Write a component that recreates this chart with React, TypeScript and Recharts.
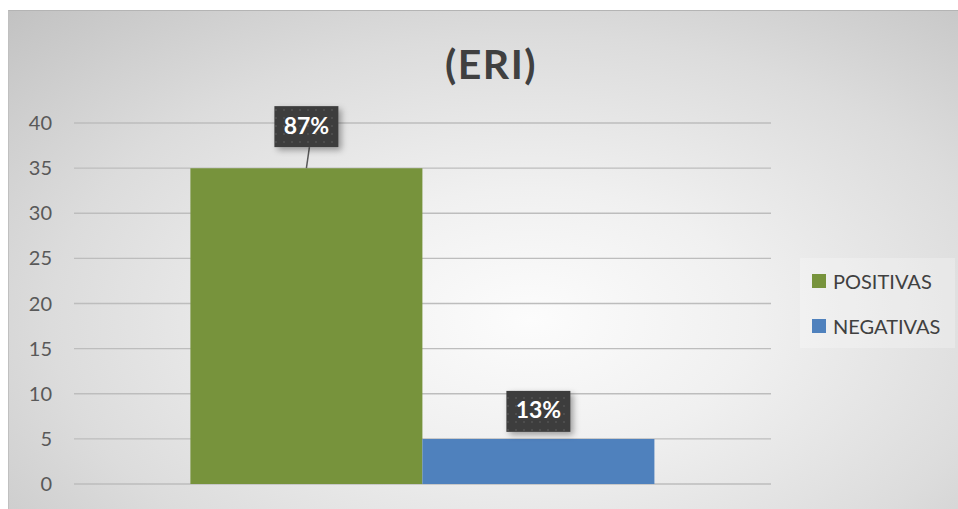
import React from 'react';
import { BarChart, Bar, XAxis, YAxis, CartesianGrid, LabelList } from 'recharts';

// single category, one bar per answer type
const categories = ['ERI'];
const seriesNames = ['POSITIVAS', 'NEGATIVAS'];
const seriesKeys = ['positivas', 'negativas'];
const seriesValues = [35, 5];
const pctLabels = ['87%', '13%'];
const seriesColors = ['#77933c', '#4f81bd'];
const yTicks = [0, 5, 10, 15, 20, 25, 30, 35, 40];

const chartData = categories.map((name) => {
  const row: Record<string, string | number> = { name };
  seriesKeys.forEach((k, i) => {
    row[k] = seriesValues[i];
  });
  return row;
});

// how far each callout box sits above its bar
const labelLift: Record<string, number> = { positivas: 21, negativas: 7 };

const FONT = 'Lato, "Open Sans", sans-serif';

const makeCallout = (key: string, text: string) => (props: any) => {
  const { x, y, width } = props;
  const cx = x + width / 2;
  const boxW = 64;
  const boxH = 41;
  const lift = labelLift[key];
  const bottom = y - lift;
  const top = bottom - boxH;
  return (
    <g>
      {lift > 10 && (
        <line x1={cx + 3} y1={bottom} x2={cx} y2={y} stroke="#595959" strokeWidth={1.5} />
      )}
      <rect x={cx - boxW / 2} y={top} width={boxW} height={boxH} fill="url(#dots)" filter="url(#calloutShadow)" />
      <text
        x={cx}
        y={top + boxH / 2 + 1}
        textAnchor="middle"
        dominantBaseline="middle"
        fill="#ffffff"
        fontFamily={FONT}
        fontWeight={700}
        fontSize={23}
      >
        {text}
      </text>
    </g>
  );
};

export default function App() {
  return (
    <div style={{ position: 'absolute', left: 0, top: 0, width: 958, height: 509, background: '#ffffff', overflow: 'hidden' }}>
      <div
        style={{
          position: 'absolute',
          left: 8,
          top: 10,
          width: 950,
          height: 499,
          borderTop: '1px solid #b4b4b4',
          borderLeft: '1px solid #c0c0c0',
          boxSizing: 'border-box',
          background: 'radial-gradient(ellipse farthest-corner at 55% 62%, #fcfcfc 0%, #f0f0f0 30%, #dcdcdc 65%, #c2c2c2 100%)',
        }}
      />
      <div
        style={{
          position: 'absolute',
          left: 391,
          top: 36,
          width: 200,
          textAlign: 'center',
          fontFamily: FONT,
          fontWeight: 700,
          fontSize: 41,
          letterSpacing: 1.5,
          color: '#404040',
          lineHeight: '56px',
        }}
      >
        (ERI)
      </div>
      <div style={{ position: 'absolute', left: 8, top: 10 }}>
        <BarChart
          width={947}
          height={499}
          data={chartData}
          margin={{ top: 113, right: 184, bottom: 25, left: 0 }}
          barGap={0}
          barCategoryGap="16.7%"
        >
          <defs>
            <pattern id="dots" width={8} height={8} patternUnits="userSpaceOnUse">
              <rect width={8} height={8} fill="#3d3d3d" />
              <rect x={3} y={3} width={2} height={2} fill="#4d4d4d" />
            </pattern>
            <filter id="calloutShadow" x="-20%" y="-20%" width="150%" height="160%">
              <feDropShadow dx={3} dy={3} stdDeviation={3} floodColor="#000" floodOpacity={0.35} />
            </filter>
          </defs>
          <CartesianGrid vertical={false} stroke="#bdbdbd" strokeWidth={1.3} />
          <XAxis dataKey="name" height={0} tick={false} tickLine={false} axisLine={{ stroke: '#8c8c8c', strokeWidth: 1.5 }} />
          <YAxis
            width={66}
            domain={[0, 40]}
            ticks={yTicks}
            interval={0}
            tickLine={false}
            axisLine={false}
            tickSize={0}
            tickMargin={22}
            tick={{ fill: '#595959', fontSize: 20, fontFamily: FONT }}
          />
          {seriesKeys.map((k, i) => (
            <Bar key={k} dataKey={k} name={seriesNames[i]} fill={seriesColors[i]} isAnimationActive={false}>
              <LabelList dataKey={k} content={makeCallout(k, pctLabels[i])} />
            </Bar>
          ))}
        </BarChart>
      </div>
      <div
        style={{
          position: 'absolute',
          left: 800,
          top: 258,
          width: 155,
          height: 90,
          background: 'rgba(255,255,255,0.25)',
          fontFamily: FONT,
          fontSize: 20,
          color: '#404040',
        }}
      >
        {seriesNames.map((n, i) => (
          <div key={n} style={{ position: 'absolute', left: 12, top: 16 + i * 45, display: 'flex', alignItems: 'center', height: 14 }}>
            <span style={{ width: 14, height: 14, background: seriesColors[i], display: 'inline-block', marginRight: 7, flexShrink: 0 }} />
            <span style={{ lineHeight: '14px', whiteSpace: 'nowrap' }}>{n}</span>
          </div>
        ))}
      </div>
    </div>
  );
}
